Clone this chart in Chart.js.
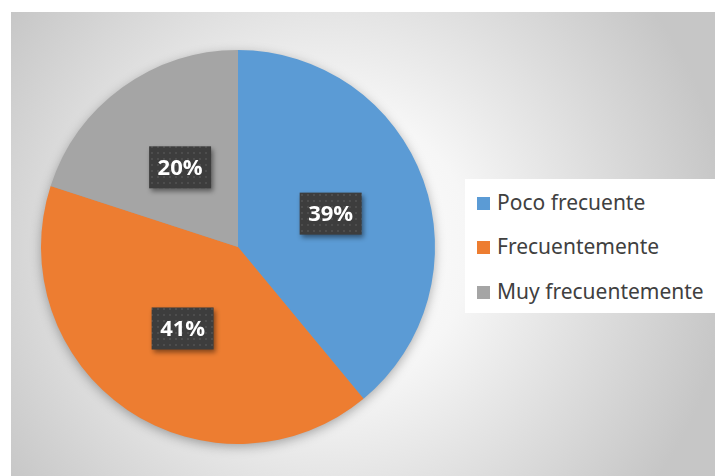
<!DOCTYPE html>
<html lang="es">
<head>
  <meta charset="UTF-8" />
  <title>Frecuencia</title>
  <script src="https://cdn.jsdelivr.net/npm/chart.js"></script>
  <style>
    html, body { margin: 0; padding: 0; background: #fff; }
    .wrap { position: relative; width: 715px; height: 476px; overflow: hidden; }
    .chart-box { position: absolute; left: 11px; top: 12px; width: 704px; height: 464px; }
    .legend {
      position: absolute; left: 465px; top: 179px; width: 250px; height: 134px;
      background: #fff; font-family: "Noto Sans", sans-serif; font-size: 21px; color: #404040;
    }
    .legend div { position: absolute; left: 12px; white-space: nowrap; line-height: 24px; }
    .legend span { display: inline-block; width: 13px; height: 13px; margin-right: 7px; vertical-align: 0px; }
  </style>
</head>
<body>
<div class="wrap">
  <div class="chart-box"><canvas id="pieChart" width="704" height="464"></canvas></div>
  <div class="legend" id="legend"></div>
</div>

<script>
  // data
  const categories = ['Poco frecuente', 'Frecuentemente', 'Muy frecuentemente'];
  const values = [39, 41, 20];
  const colors = ['#5B9BD5', '#ED7D31', '#A5A5A5'];

  // html legend
  const legendEl = document.getElementById('legend');
  const rowTops = [11, 55, 100];
  categories.forEach((c, i) => {
    const d = document.createElement('div');
    d.style.top = rowTops[i] + 'px';
    d.innerHTML = '<span style="background:' + colors[i] + '"></span>' + c;
    legendEl.appendChild(d);
  });

  // dotted dark pattern for the label boxes
  function makePattern(ctx) {
    const p = document.createElement('canvas');
    p.width = 6; p.height = 6;
    const pc = p.getContext('2d');
    pc.fillStyle = '#3d3d3d';
    pc.fillRect(0, 0, 6, 6);
    pc.fillStyle = '#4d4d4d';
    pc.fillRect(2, 2, 2, 2);
    return ctx.createPattern(p, 'repeat');
  }

  const bgPlugin = {
    id: 'bg',
    beforeDraw(chart) {
      const ctx = chart.ctx;
      const w = chart.width, h = chart.height;
      const g = ctx.createRadialGradient(320, 235, 0, 320, 235, 400);
      g.addColorStop(0, '#ffffff');
      g.addColorStop(0.35, '#f6f6f6');
      g.addColorStop(1, '#c6c6c6');
      ctx.save();
      ctx.fillStyle = g;
      ctx.fillRect(0, 0, w, h);
      ctx.restore();
    },
    beforeDatasetsDraw(chart) {
      // soft shadow under the whole pie
      const arc = chart.getDatasetMeta(0).data[0];
      const ctx = chart.ctx;
      ctx.save();
      ctx.shadowColor = 'rgba(0,0,0,0.35)';
      ctx.shadowBlur = 12;
      ctx.shadowOffsetY = 3;
      ctx.fillStyle = '#999';
      ctx.beginPath();
      ctx.arc(arc.x, arc.y, arc.outerRadius - 1, 0, Math.PI * 2);
      ctx.fill();
      ctx.restore();
    },
    afterDatasetsDraw(chart) {
      const ctx = chart.ctx;
      const pat = makePattern(ctx);
      const total = values.reduce((a, b) => a + b, 0);
      chart.getDatasetMeta(0).data.forEach((el, i) => {
        const pt = el.tooltipPosition();
        const txt = Math.round(values[i] / total * 100) + '%';
        ctx.save();
        ctx.font = 'bold 22px "Open Sans", sans-serif';
        const tw = ctx.measureText(txt).width;
        const bw = tw + 17, bh = 42;
        ctx.shadowColor = 'rgba(0,0,0,0.45)';
        ctx.shadowBlur = 5;
        ctx.shadowOffsetX = 2;
        ctx.shadowOffsetY = 3;
        ctx.fillStyle = pat;
        ctx.fillRect(pt.x - bw / 2, pt.y - bh / 2, bw, bh);
        ctx.restore();
        ctx.save();
        ctx.font = 'bold 22px "Open Sans", sans-serif';
        ctx.fillStyle = '#ffffff';
        ctx.textAlign = 'center';
        ctx.textBaseline = 'middle';
        ctx.fillText(txt, pt.x, pt.y + 1);
        ctx.restore();
      });
    }
  };

  const pieCtx = document.getElementById('pieChart').getContext('2d');
  const pieChart = new Chart(pieCtx, {
    type: 'pie',
    data: {
      labels: categories,
      datasets: [{
        data: values,
        backgroundColor: colors,
        borderWidth: 0,
        hoverOffset: 0
      }]
    },
    options: {
      responsive: false,
      animation: false,
      layout: { padding: { left: 30, right: 280, top: 38, bottom: 32 } },
      plugins: {
        legend: { display: false },
        tooltip: { enabled: false }
      }
    },
    plugins: [bgPlugin]
  });
</script>
</body>
</html>
